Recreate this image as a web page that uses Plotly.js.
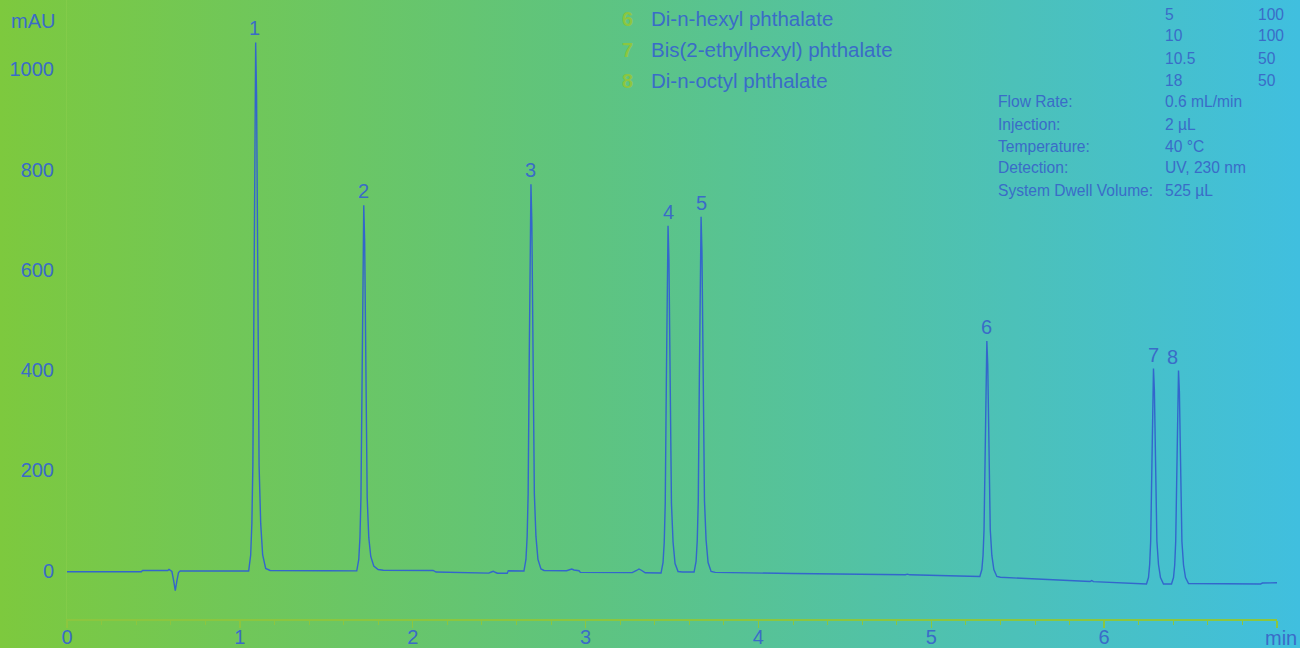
<!DOCTYPE html>
<html>
<head>
<meta charset="utf-8">
<script src="https://cdn.plot.ly/plotly-3.0.1.min.js"></script>
<style>
  html, body { margin: 0; padding: 0; }
  body { width: 1300px; height: 648px; overflow: hidden;
         background: linear-gradient(to right, #7dc93e 0%, #5ec47f 45%, #40bfdf 100%); }
  #chart { width: 1300px; height: 648px; }
</style>
</head>
<body>
<div id="chart"></div>
<script>
// ---- data ----
const timeMin = [
  0, 0.430, 0.437, 0.583, 0.590, 0.600, 0.607, 0.617, 0.6265, 0.636, 0.645, 0.655, 1.000,
  1.0510, 1.0626, 1.0695, 1.0753, 1.0817, 1.0869, 1.0915, 1.0967, 1.1031, 1.1112, 1.1205, 1.1320, 1.1494, 1.175, 1.500,
  1.6763, 1.6879, 1.6948, 1.7006, 1.7070, 1.7122, 1.7168, 1.7220, 1.7284, 1.7365, 1.7458, 1.7573, 1.7747, 1.800, 1.830,
  2.118, 2.135, 2.280, 2.297, 2.440, 2.455, 2.466, 2.477, 2.490, 2.547, 2.553,
  2.6435, 2.6551, 2.6620, 2.6678, 2.6742, 2.6794, 2.6840, 2.6892, 2.6956, 2.7037, 2.7130, 2.7245, 2.7419, 2.760,
  2.890, 2.910, 2.920, 2.933, 2.962, 2.970, 3.270, 3.295, 3.309, 3.325, 3.345,
  3.4366, 3.4482, 3.4551, 3.4609, 3.4673, 3.4725, 3.4771, 3.4823, 3.4887, 3.4968, 3.5061, 3.5176, 3.5350, 3.560,
  3.6277, 3.6393, 3.6462, 3.6520, 3.6584, 3.6636, 3.6682, 3.6734, 3.6798, 3.6879, 3.6972, 3.7087, 3.7261, 3.750,
  4.200, 4.670, 4.676, 4.850, 4.862, 4.875, 5.100,
  5.2809, 5.2925, 5.2994, 5.3052, 5.3116, 5.3168, 5.3214, 5.3266, 5.3330, 5.3411, 5.3504, 5.3619, 5.3793, 5.400,
  5.918, 5.928, 5.938, 6.240,
  6.2449, 6.2565, 6.2634, 6.2692, 6.2756, 6.2808, 6.2854, 6.2906, 6.2970, 6.3051, 6.3144, 6.3259, 6.3433,
  6.3897, 6.4013, 6.4082, 6.4140, 6.4204, 6.4256, 6.4302, 6.4354, 6.4418, 6.4499, 6.4592, 6.4707, 6.4881,
  6.600, 6.905, 6.915, 6.935, 6.950, 7.000
];
const signalMAU = [
  -2.4, -2.4, 0, 0, 2.2, 0.5, -2, -20, -40, -20, -4, -1, -0.6,
  -1, 31, 94, 210, 579, 949, 1054, 949, 579, 210, 94, 31, 4, 0, -0.5,
  -0.8, 22, 66, 146, 401, 656, 729, 656, 401, 146, 66, 28, 9, 2, 0.5,
  0, -3, -3.5, -5, -5.2, -3, -1.5, -3.5, -5.5, -5.6, -0.5,
  -1, 22, 68, 153, 424, 694, 771, 694, 424, 153, 68, 22, 3, 0,
  -0.4, 2, 3, 1, -0.5, -3.7, -4.3, 0, 3, 0, -4.6,
  -5, 16, 57, 134, 376, 619, 688, 619, 376, 134, 57, 14, -2, -3,
  -3, 18, 61, 139, 387, 635, 706, 635, 387, 139, 61, 16, -2, -3.7,
  -6, -8.5, -7.3, -8.4, -7.2, -8.6, -10.5,
  -12, 2, 30, 82, 247, 411, 458, 411, 247, 82, 30, 2, -12, -13.5,
  -22, -20, -22.3, -27,
  -27, -14, 12, 59, 210, 360, 403, 360, 210, 59, 12, -14, -27,
  -27, -14, 11, 58, 207, 356, 399, 356, 207, 58, 11, -14, -26,
  -26.5, -27, -25, -25, -25.5, -24.5
];

const peakLabels  = ['1', '2', '3', '4', '5', '6', '7', '8'];
const peakTimes   = [1.0915, 1.7168, 2.684, 3.4771, 3.6682, 5.3214, 6.2854, 6.4302];
const peakHeights = [1054, 729, 771, 688, 706, 458, 403, 399];

const legendNumbers = ['6', '7', '8'];
const legendNames   = ['Di-n-hexyl phthalate', 'Bis(2-ethylhexyl) phthalate', 'Di-n-octyl phthalate'];

const gradientTime = ['5', '10', '10.5', '18'];
const gradientPctB = ['100', '100', '50', '50'];

const condLabels = ['Flow Rate:', 'Injection:', 'Temperature:', 'Detection:', 'System Dwell Volume:'];
const condValues = ['0.6 mL/min', '2 µL', '40 °C', 'UV, 230 nm', '525 µL'];

const xTickVals = [0, 1, 2, 3, 4, 5, 6, 7];
const xTickText = ['0', '1', '2', '3', '4', '5', '6', ''];
const yTickVals = [0, 200, 400, 600, 800, 1000];

// ---- styling ----
const FONT = 'Liberation Sans, Arial, sans-serif';
const BLUE = '#3a6cc8';
const GREEN = '#8cc63f';
const L = 67, R = 23, T = 0, B = 29, W = 1300, H = 648;
const px2x = p => (p - L) / (W - L - R);
const px2y = p => (H - B - p) / (H - B - T);

const annotations = [];
peakLabels.forEach((lab, i) => {
  annotations.push({
    x: peakTimes[i], y: peakHeights[i], xref: 'x', yref: 'y', text: lab,
    showarrow: false, xanchor: 'center', yanchor: 'middle',
    yshift: 14, xshift: (i === 7 ? -6 : (i === 0 ? -1 : 0)),
    font: {family: FONT, size: 20, color: BLUE}
  });
});
annotations.push({x: px2x(56.5), y: px2y(20.7), xref: 'paper', yref: 'paper', text: 'mAU',
  showarrow: false, xanchor: 'right', yanchor: 'middle', font: {family: FONT, size: 20, color: BLUE}});
annotations.push({x: px2x(1281), y: px2y(638), xref: 'paper', yref: 'paper', text: 'min',
  showarrow: false, xanchor: 'center', yanchor: 'middle', font: {family: FONT, size: 20, color: BLUE}});

const legendRowsPx = [19, 50, 80.7];
legendNumbers.forEach((n, i) => {
  annotations.push({x: px2x(627.5), y: px2y(legendRowsPx[i]), xref: 'paper', yref: 'paper', text: '<b>' + n + '</b>',
    showarrow: false, xanchor: 'center', yanchor: 'middle', font: {family: FONT, size: 20, color: GREEN, weight: 'bold'}});
  annotations.push({x: px2x(649), y: px2y(legendRowsPx[i]), xref: 'paper', yref: 'paper', text: legendNames[i],
    showarrow: false, xanchor: 'left', yanchor: 'middle', font: {family: FONT, size: 20.5, color: BLUE}});
});

const gradRowsPx = [14, 35.7, 58.3, 80];
gradientTime.forEach((t, i) => {
  annotations.push({x: px2x(1162.7), y: px2y(gradRowsPx[i]), xref: 'paper', yref: 'paper', text: t,
    showarrow: false, xanchor: 'left', yanchor: 'middle', font: {family: FONT, size: 15.6, color: BLUE}});
  annotations.push({x: px2x(1256.3), y: px2y(gradRowsPx[i]), xref: 'paper', yref: 'paper', text: gradientPctB[i],
    showarrow: false, xanchor: 'left', yanchor: 'middle', font: {family: FONT, size: 15.6, color: BLUE}});
});
const condRowsPx = [101.7, 124, 146, 167.7, 190];
condLabels.forEach((c, i) => {
  annotations.push({x: px2x(996.3), y: px2y(condRowsPx[i]), xref: 'paper', yref: 'paper', text: c,
    showarrow: false, xanchor: 'left', yanchor: 'middle', font: {family: FONT, size: 15.6, color: BLUE}});
  annotations.push({x: px2x(1162.7), y: px2y(condRowsPx[i]), xref: 'paper', yref: 'paper', text: condValues[i],
    showarrow: false, xanchor: 'left', yanchor: 'middle', font: {family: FONT, size: 15.6, color: BLUE}});
});

const trace = {
  x: timeMin, y: signalMAU, type: 'scatter', mode: 'lines',
  line: {color: '#3366cc', width: 1.4, shape: 'linear'},
  hoverinfo: 'x+y'
};

const layout = {
  width: W, height: H,
  margin: {l: L, r: R, t: T, b: B, pad: 0},
  paper_bgcolor: 'rgba(0,0,0,0)', plot_bgcolor: 'rgba(0,0,0,0)',
  showlegend: false,
  font: {family: FONT, color: BLUE},
  xaxis: {
    range: [0, 7], tickmode: 'array', tickvals: xTickVals, ticktext: xTickText,
    showgrid: false, zeroline: false,
    showline: true, linecolor: GREEN, linewidth: 2,
    ticks: 'outside', ticklen: 7, tickwidth: 1.5, tickcolor: GREEN,
    ticklabelstandoff: -8,
    minor: {dtick: 0.2, ticks: 'outside', ticklen: 4, tickwidth: 1, tickcolor: GREEN, showgrid: false},
    tickfont: {family: FONT, size: 20, color: BLUE}
  },
  yaxis: {
    range: [-96.8, 1138.7], tickmode: 'array', tickvals: yTickVals,
    showgrid: false, zeroline: false,
    showline: true, linecolor: 'rgba(150,210,80,0.35)', linewidth: 1,
    ticks: 'outside', ticklen: 8, tickcolor: 'rgba(0,0,0,0)',
    tickfont: {family: FONT, size: 20, color: BLUE}
  },
  annotations: annotations
};

Plotly.newPlot('chart', [trace], layout, {displayModeBar: false, staticPlot: true});
</script>
</body>
</html>
